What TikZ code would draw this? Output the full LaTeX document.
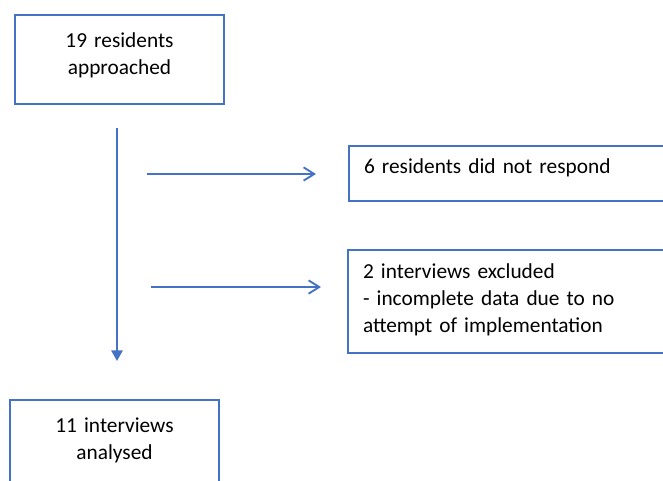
\documentclass[tikz,border=0pt]{standalone}
\usepackage{fontspec}
\setmainfont{Carlito}
\usetikzlibrary{arrows.meta}
\definecolor{wordblue}{HTML}{4472C4}

\begin{document}
\begin{tikzpicture}[x=0.75pt, y=-0.75pt]
\tikzstyle{box}=[draw=wordblue, line width=1.5pt, inner ysep=0pt, anchor=north west,
    font=\fontsize{16}{20.25}\selectfont]
\tikzstyle{flow}=[draw=wordblue, line width=1.4pt]

\useasboundingbox (0, 0) rectangle (663, 480);
\clip (0, 0) rectangle (663, 480);

% centred boxes
\node (approached) at (14, 14) [box, inner xsep=0pt, text width=156.75pt, align=center,
    text height=24pt, text depth=42.75pt] {19 residents\\approached};
\node (analysed) at (9, 399) [box, inner xsep=0pt, text width=156.75pt, align=center,
    text height=24pt, text depth=51.75pt] {11 interviews\\analysed};

% boxes on the right, running off the page
\node (noresp) at (348, 145) [box, inner xsep=11.25pt, text width=240pt, align=left,
    text height=20.25pt, text depth=21pt] {6 residents did not respond};
\node (excluded) at (347, 249) [box, inner xsep=11.25pt, text width=240pt, align=left,
    text height=21pt, text depth=56.25pt]
    {2 interviews excluded\\- incomplete data due to no\\attempt of implementation};

\coordinate (down-s) at (117, 128);
\coordinate (down-e) at (117, 361);
\coordinate (side1-s) at (147, 174);
\coordinate (side1-e) at (316, 174);
\coordinate (side2-s) at (151, 287);
\coordinate (side2-e) at (321, 287);

\draw [flow, -{Triangle[length=8pt, width=8.5pt]}] (down-s) to (down-e);
\draw [flow, -{Straight Barb[length=8pt, width=10pt]}] (side1-s) to (side1-e);
\draw [flow, -{Straight Barb[length=8pt, width=10pt]}] (side2-s) to (side2-e);

\end{tikzpicture}
\end{document}
